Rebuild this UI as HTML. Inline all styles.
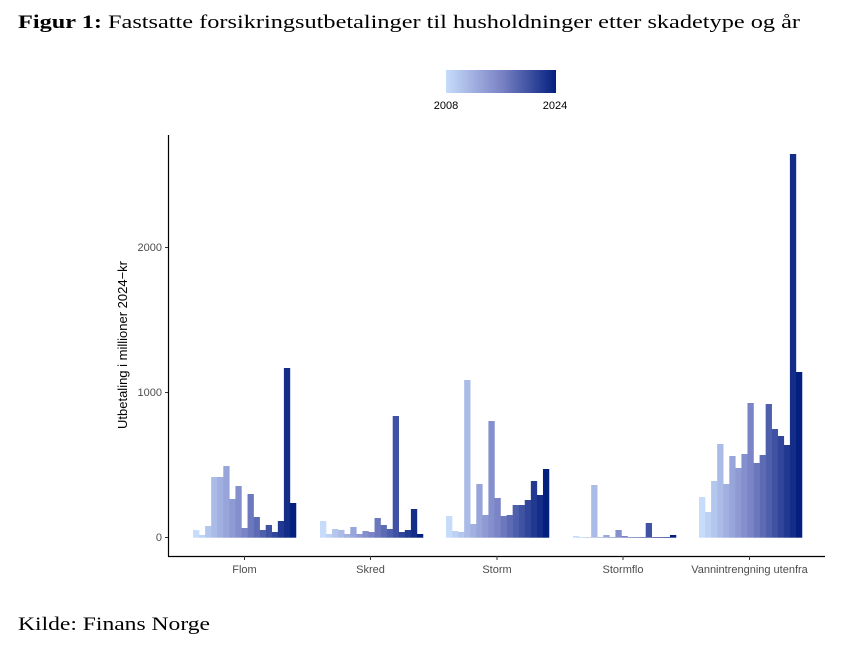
<!DOCTYPE html>
<html><head><meta charset="utf-8"><style>
body{margin:0;background:#fff;width:862px;height:648px;overflow:hidden}
</style></head><body>
<svg id="s" width="862" height="648" xmlns="http://www.w3.org/2000/svg" font-family="Liberation Sans, sans-serif">
<text x="18" y="28" font-family="Liberation Serif, serif" font-size="19" fill="#000" textLength="782" lengthAdjust="spacingAndGlyphs"><tspan font-weight="bold">Figur 1:</tspan> Fastsatte forsikringsutbetalinger til husholdninger etter skadetype og år</text>
<text x="18" y="630" font-family="Liberation Serif, serif" font-size="19" fill="#000" textLength="192" lengthAdjust="spacingAndGlyphs">Kilde: Finans Norge</text>
<defs><linearGradient id="g" x1="0" x2="1"><stop offset="0" stop-color="#c6dcfa"/><stop offset="0.5" stop-color="#7b84c6"/><stop offset="1" stop-color="#04207f"/></linearGradient></defs>
<rect x="446" y="70" width="110" height="23" fill="url(#g)"/>
<text x="446" y="109" font-size="11" text-anchor="middle">2008</text>
<text x="555" y="109" font-size="11" text-anchor="middle">2024</text>
<g id="bars"></g>
<line x1="168.5" y1="135" x2="168.5" y2="556.5" stroke="#000" stroke-width="1.2"/>
<line x1="168" y1="556.5" x2="825" y2="556.5" stroke="#000" stroke-width="1.2"/>
<g stroke="#333"><line x1="165" x2="168" y1="537.5" y2="537.5"/><line x1="165" x2="168" y1="392.5" y2="392.5"/><line x1="165" x2="168" y1="247.5" y2="247.5"/>
<line x1="244.5" x2="244.5" y1="556" y2="560"/><line x1="370.5" x2="370.5" y1="556" y2="560"/><line x1="497" x2="497" y1="556" y2="560"/><line x1="623" x2="623" y1="556" y2="560"/><line x1="749.5" x2="749.5" y1="556" y2="560"/></g>
<g font-size="11" fill="#4d4d4d" text-anchor="end"><text x="162" y="541">0</text><text x="162" y="396">1000</text><text x="162" y="251">2000</text></g>
<g font-size="11" fill="#4d4d4d" text-anchor="middle"><text x="244.5" y="573">Flom</text><text x="370.5" y="573">Skred</text><text x="497" y="573">Storm</text><text x="623" y="573">Stormflo</text><text x="749.5" y="573">Vannintrengning utenfra</text></g>
<text transform="translate(127,345) rotate(-90)" font-size="13" text-anchor="middle">Utbetaling i millioner 2024−kr</text>
</svg>
<script>
var data=[[193,[530,535,526,477,477,466,499,486,528,494,517,530,525,532,521,368,503]],
[320,[521,534,529,530,534,527,534,531,532,518,525,529,416,532,530,509,534]],
[446,[516,531,532,380,524,484,515,421,498,516,515,505,505,500,481,495,469]],
[573,[536,537,537,485,537,535,537,530,536,537,537,537,523,537,537,537,535]],
[699,[497,512,481,444,484,456,468,454,403,463,455,404,429,436,445,154,372]]];
function lerp(a,b,t){return a.map((v,i)=>Math.round(v+(b[i]-v)*t));}
var c0=[198,220,250],c1=[123,132,198],c2=[4,32,127];
function col(i){var t=i/16;var c=t<0.5?lerp(c0,c1,t*2):lerp(c1,c2,(t-0.5)*2);return "rgb("+c.join(",")+")";}
var g=document.getElementById("bars"),h="";
data.forEach(function(d){d[1].forEach(function(top,i){var x=d[0]+i*6.06;h+='<rect x="'+x.toFixed(2)+'" y="'+top+'" width="6.3" height="'+(537.7-top)+'" fill="'+col(i)+'"/>';});});
g.innerHTML=h;
</script>
</body></html>
